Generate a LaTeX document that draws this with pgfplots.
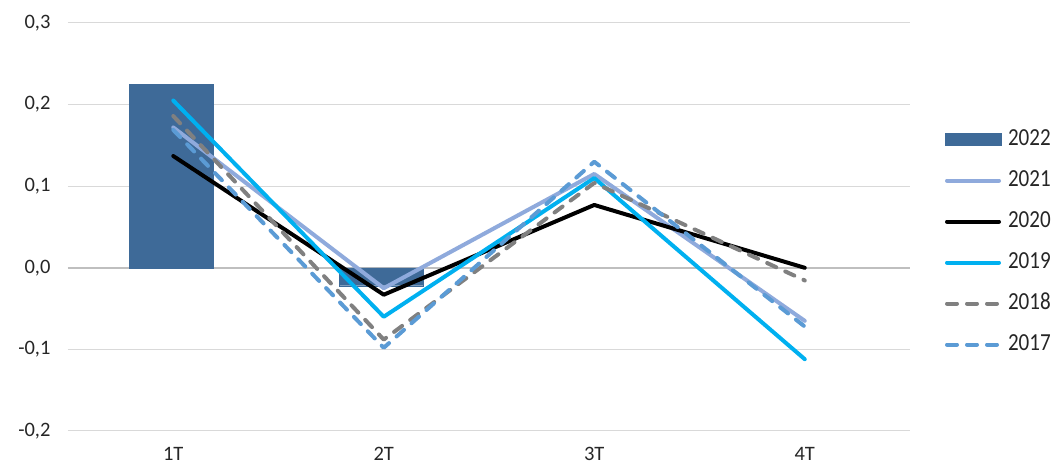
\documentclass[border=0pt]{standalone}
\usepackage{pgfplots}
\pgfplotsset{compat=1.18}
\usepackage{fontspec}
\setmainfont{Carlito}
\definecolor{c22}{RGB}{62,106,152}
\definecolor{c21}{RGB}{143,170,220}
\definecolor{c19}{RGB}{0,176,240}
\definecolor{c18}{RGB}{128,128,128}
\definecolor{c17}{RGB}{91,155,213}
\definecolor{gridc}{RGB}{217,217,217}
\definecolor{txt}{RGB}{38,38,38}
\newcommand{\legtxt}[1]{\scalebox{0.86}[1]{#1}}
\begin{document}
\begin{tikzpicture}[x=1pt,y=1pt]
\useasboundingbox (-68,-34) rectangle (983,431);
\begin{axis}[
  at={(0pt,0pt)}, anchor=south west,
  scale only axis, width=842pt, height=408pt,
  xmin=-0.5, xmax=3.5, ymin=-0.2, ymax=0.3,
  axis line style={draw=none},
  major tick length=0pt,
  xtick={0,1,2,3}, xticklabels={1T,2T,3T,4T},
  ytick={-0.2,-0.1,0,0.1,0.2,0.3},
  yticklabels={{-0,2},{-0,1},{0,0},{0,1},{0,2},{0,3}},
  ymajorgrids, grid style={color=gridc, line width=1pt},
  ticklabel style={font=\fontsize{20.5}{24}\selectfont, text=txt},
  yticklabel style={xshift=-14pt},
  xticklabel style={yshift=-13pt},
  clip=false,
  legend cell align=left,
  legend style={at={(1,0.463)}, anchor=west, xshift=33pt, draw=none, fill=none,
    inner sep=0pt, outer sep=0pt, row sep=21pt,
    font=\fontsize{24.5}{28}\selectfont, text=txt,
    nodes={inner sep=0pt, text height=16pt, text depth=4pt}},
]
\draw[color=black!25, line width=1.6pt] (axis cs:-0.5,0) -- (axis cs:3.5,0);
\addplot[ybar, bar width=84pt, fill=c22, draw=c22,
  legend image code/.code={\fill[c22] (0pt,-6pt) rectangle (56pt,6pt); \path (61pt,0pt);}]
  coordinates {(-0.01,0.225) (0.99,-0.022)};
\addlegendentry{\legtxt{2022}}
\pgfplotsset{legend image code/.code={\draw[#1] (2pt,0pt) -- (54pt,0pt); \path (0pt,0pt) (61pt,0pt);}}
\addplot[c21, line width=4pt, line cap=round, line join=round] coordinates {(0,0.172) (1,-0.025) (2,0.115) (3,-0.065)};
\addlegendentry{\legtxt{2021}}
\addplot[black, line width=4pt, line cap=round, line join=round] coordinates {(0,0.137) (1,-0.033) (2,0.077) (3,0.0)};
\addlegendentry{\legtxt{2020}}
\addplot[c19, line width=4pt, line cap=round, line join=round] coordinates {(0,0.205) (1,-0.060) (2,0.110) (3,-0.112)};
\addlegendentry{\legtxt{2019}}
\addplot[c18, line width=4pt, line cap=round, line join=round, dash pattern=on 10pt off 10pt] coordinates {(0,0.186) (1,-0.088) (2,0.104) (3,-0.0155)};
\addlegendentry{\legtxt{2018}}
\addplot[c17, line width=4pt, line cap=round, line join=round, dash pattern=on 10pt off 10pt] coordinates {(0,0.169) (1,-0.098) (2,0.130) (3,-0.072)};
\addlegendentry{\legtxt{2017}}
\end{axis}
\end{tikzpicture}
\end{document}
